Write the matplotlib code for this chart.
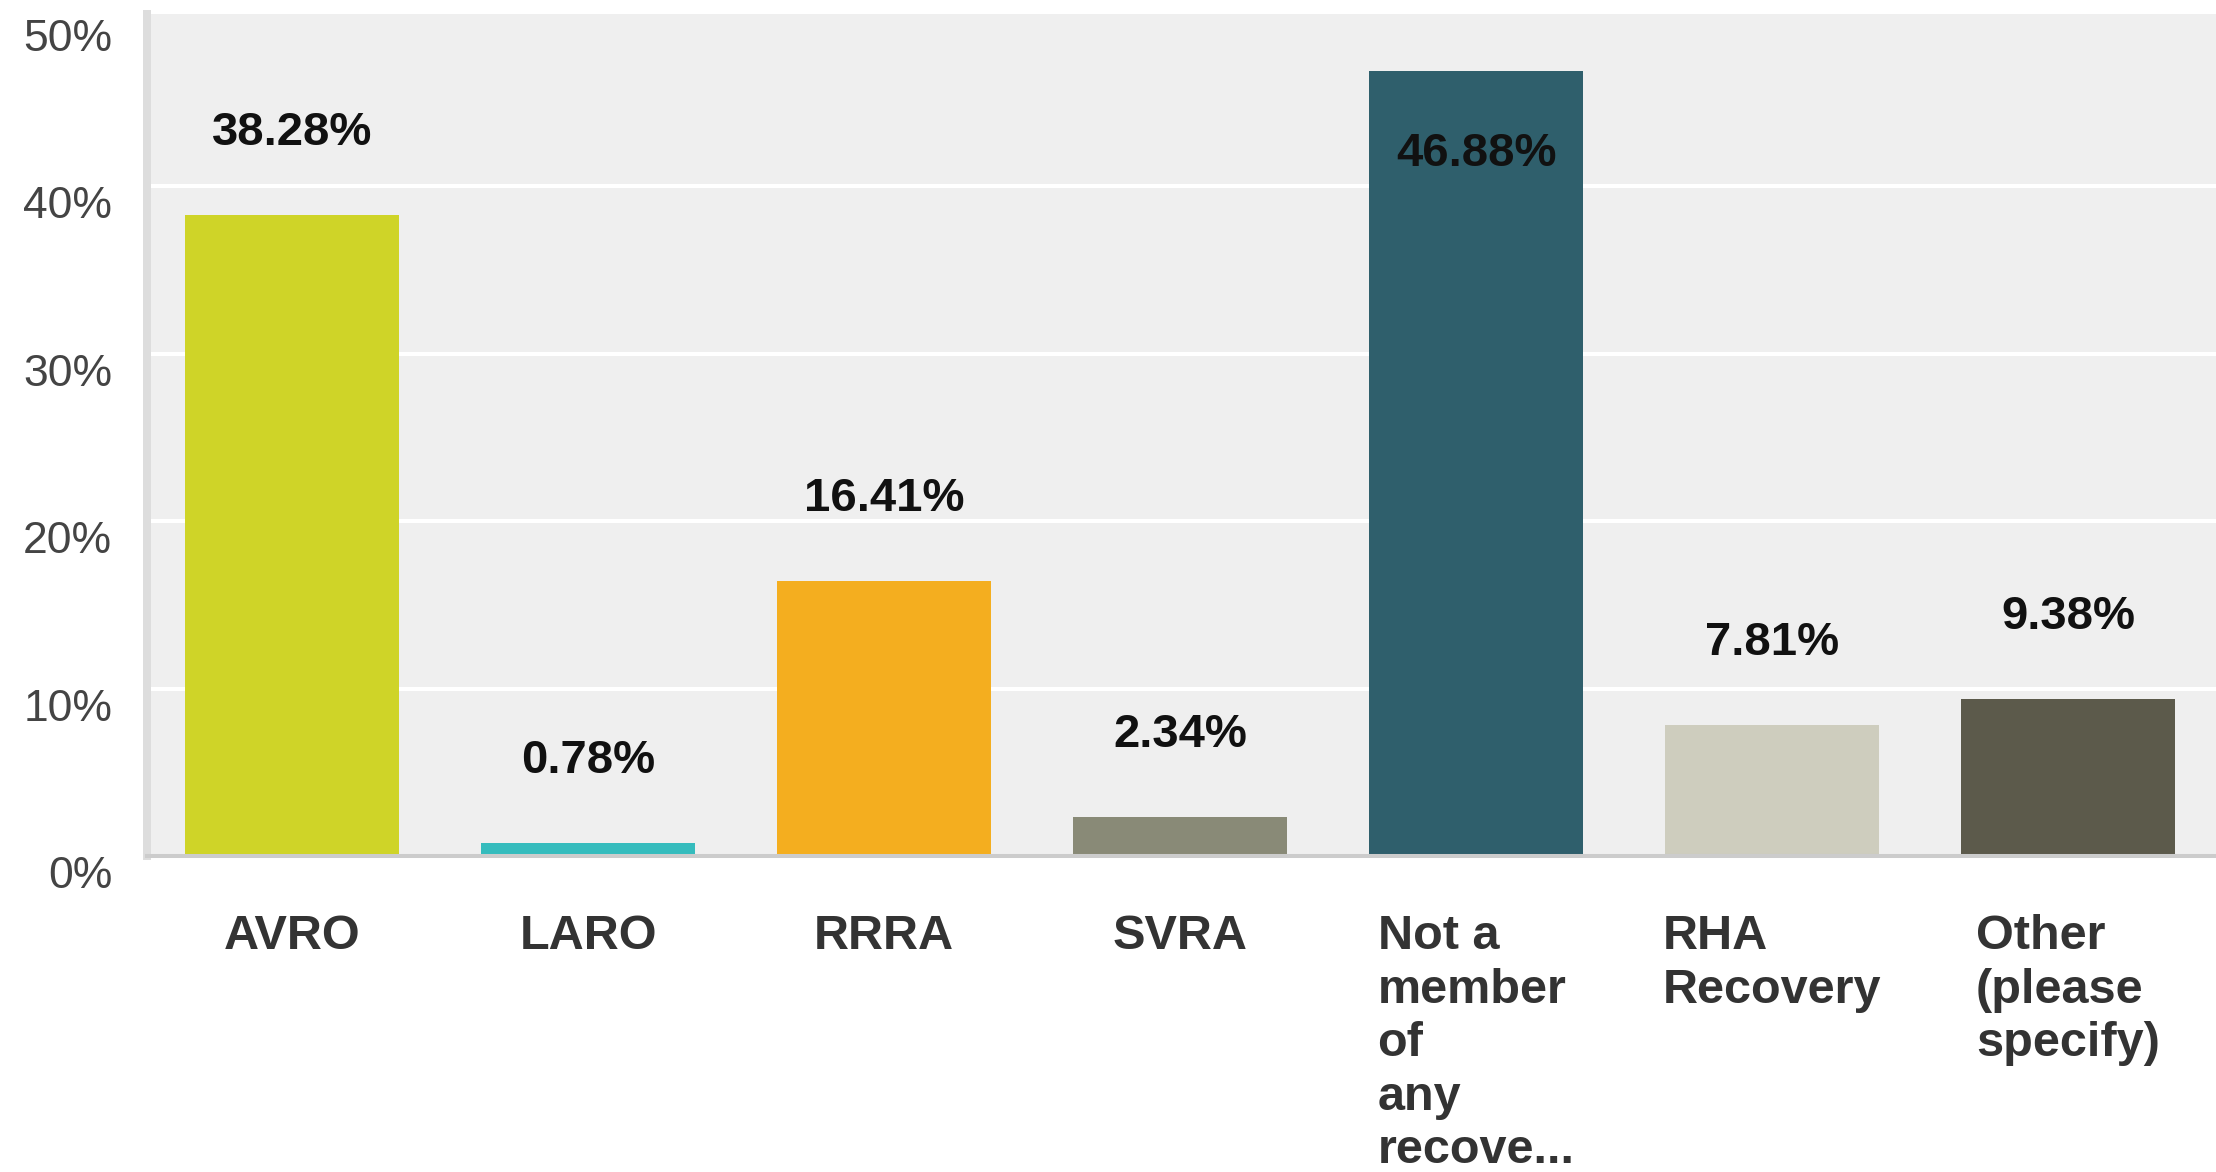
import matplotlib
matplotlib.use("Agg")
import matplotlib.pyplot as plt
from matplotlib import font_manager

# survey answers and their shares (%)
categories = ["AVRO", "LARO", "RRRA", "SVRA",
              "Not a\nmember\nof\nany\nrecove...", "RHA\nRecovery",
              "Other\n(please\nspecify)"]
values = [38.28, 0.78, 16.41, 2.34, 46.88, 7.81, 9.38]
value_labels = ["38.28%", "0.78%", "16.41%", "2.34%", "46.88%", "7.81%", "9.38%"]
colors = ["#cfd428", "#35bcbd", "#f4ae1f", "#898a77", "#2f5f6c", "#cecdbe", "#5c5a4b"]
yticks = [0, 10, 20, 30, 40, 50]
ytick_labels = ["0%", "10%", "20%", "30%", "40%", "50%"]

names = {f.name for f in font_manager.fontManager.ttflist}
narrow = "Liberation Sans Narrow" in names
xfont = "Liberation Sans Narrow" if narrow else "Liberation Sans"
xsize = 38 if narrow else 35

W, H = 2216, 1172
fig = plt.figure(figsize=(W / 100, H / 100), dpi=100)
fig.patch.set_facecolor("white")
# axes box in pixels: left 147, right 2216, top 14, bottom 856
ax = fig.add_axes([147 / W, (H - 856) / H, (W - 147) / W, (856 - 14) / H])
ax.set_facecolor("#efefef")

x = list(range(len(values)))
ax.bar(x, values, width=0.726, color=colors, zorder=2)

ax.set_xlim(-0.49, 6.5)
ax.set_ylim(0, 50.27)

# white horizontal grid
for g in yticks[1:-1]:
    ax.axhline(g, color="white", linewidth=2.9, zorder=1)

# value labels above bars (inside when there is no room)
for xi, v, lab in zip(x, values, value_labels):
    off = -60 if v > 44 else 59
    ax.annotate(lab, (xi, v), xytext=(0, off), textcoords="offset points",
                ha="center", va="center", fontsize=34, fontweight="bold",
                family="Liberation Sans", color="#111111", zorder=3)

ax.set_yticks(yticks)
ax.set_yticklabels(ytick_labels, va="top", family="Liberation Sans",
                   fontsize=32, color="#444444")
ax.tick_params(axis="y", length=0, pad=25)

ax.set_xticks(x)
ax.set_xticklabels(categories, ha="center", ma="left", family=xfont,
                   fontsize=xsize, fontweight="bold", color="#333333",
                   linespacing=1.24)
ax.tick_params(axis="x", length=0, pad=42)

for s in ["top", "right"]:
    ax.spines[s].set_visible(False)
ax.spines["left"].set_color("#dddddd")
ax.spines["left"].set_linewidth(5.76)
ax.spines["bottom"].set_color("#cccccc")
ax.spines["bottom"].set_linewidth(2.9)
ax.spines["bottom"].set_zorder(4)

fig.savefig("out.png", dpi=100)
